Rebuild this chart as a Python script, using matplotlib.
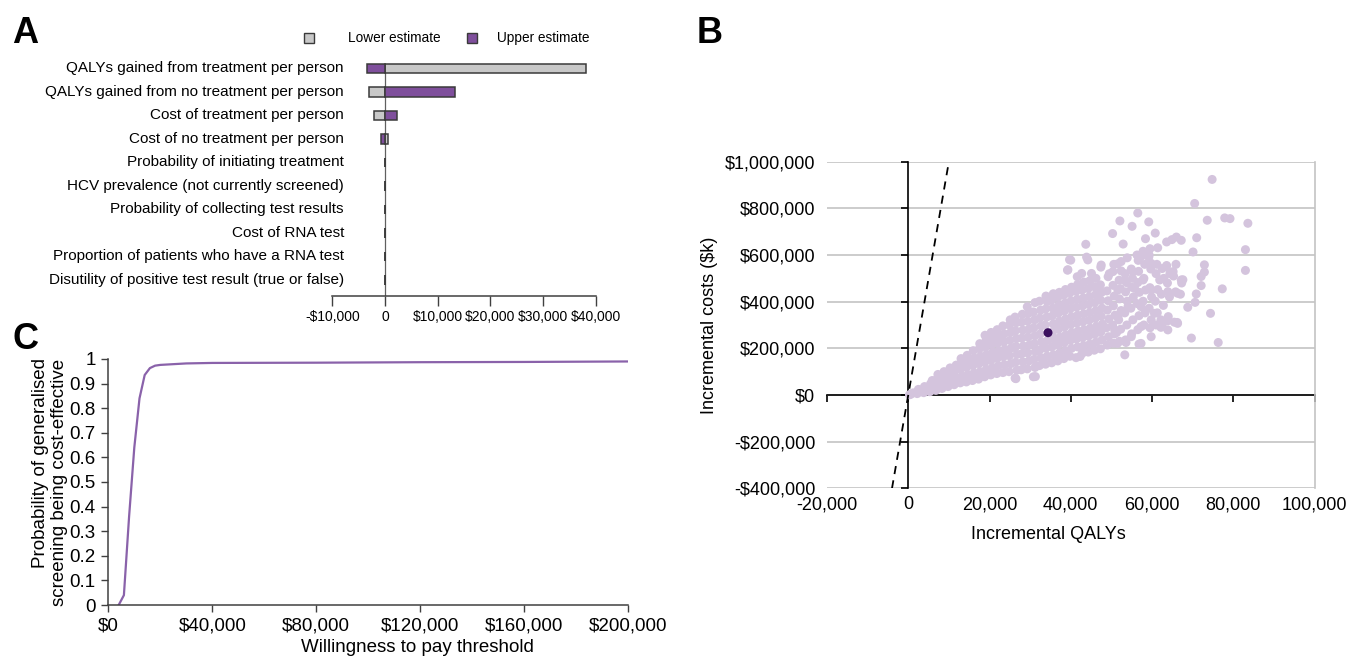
import matplotlib
matplotlib.use("Agg")
import matplotlib.pyplot as plt
import matplotlib.transforms as mtransforms
from matplotlib.patches import Rectangle

plt.rcParams['font.family'] = ['Liberation Sans', 'DejaVu Sans']

# ---------------- Panel A data (tornado) ----------------
tornado_params = [
    "QALYs gained from treatment per person",
    "QALYs gained from no treatment per person",
    "Cost of treatment per person",
    "Cost of no treatment per person",
    "Probability of initiating treatment",
    "HCV prevalence (not currently screened)",
    "Probability of collecting test results",
    "Cost of RNA test",
    "Proportion of patients who have a RNA test",
    "Disutility of positive test result (true or false)",
]
lower_estimate = [38100, -3050, -2100, 650, -60, -60, -60, -60, -60, -60]
upper_estimate = [-3500, 13300, 2200, -700, 60, 60, 60, 60, 60, 60]
tornado_ticks = [-10000, 0, 10000, 20000, 30000, 40000]
tornado_ticklabels = ["-$10,000", "0", "$10,000", "$20,000", "$30,000", "$40,000"]
legend_labels = ["Lower estimate", "Upper estimate"]

# ---------------- Panel B data (PSA scatter, thousands) ----------------
psa_draws_k = [
    (0.3, 1), (0.6, 3), (1.2, 9),
    (2.2, 6), (2.8, 14), (2.5, 24),
    (3.8, 10), (4.3, 22), (4.0, 36),
    (5.3, 14), (5.8, 30), (5.5, 48), (5.9, 62),
    (6.8, 20), (7.2, 40), (7.0, 66), (7.3, 88),
    (8.3, 28), (8.7, 54), (8.4, 80), (8.8, 100),
    (9.8, 36), (10.2, 62), (9.9, 90), (10.3, 116),
    (11.3, 44), (11.7, 74), (11.4, 102), (11.8, 128),
    (12.8, 52), (13.2, 80), (12.9, 110), (13.3, 138), (13.0, 156),
    (14.3, 56), (14.7, 88), (14.4, 120), (14.8, 150), (14.5, 170),
    (15.8, 62), (16.2, 94), (15.9, 126), (16.3, 158), (16.0, 190),
    (17.3, 68), (17.7, 100), (17.4, 134), (17.8, 166), (17.5, 198), (17.6, 220),
    (18.8, 78), (19.2, 110), (18.9, 142), (19.3, 174), (19.0, 206), (19.2, 238), (18.9, 256),
    (20.3, 86), (20.7, 118), (20.4, 150), (20.8, 184), (20.5, 216), (20.7, 248), (20.4, 268),
    (21.8, 92), (22.2, 126), (21.9, 158), (22.3, 190), (22.0, 222), (22.2, 254), (21.9, 280),
    (23.3, 96), (23.7, 130), (23.4, 164), (23.8, 196), (23.5, 228), (23.6, 262), (23.3, 296),
    (24.8, 100), (25.2, 134), (24.9, 168), (25.3, 200), (25.0, 234), (25.2, 268), (24.9, 300), (25.1, 322),
    (26.3, 72), (26.7, 106), (26.4, 140), (26.8, 174), (26.5, 208), (26.7, 242), (26.4, 276), (26.6, 310), (26.3, 334),
    (27.8, 108), (28.2, 142), (27.9, 176), (28.3, 210), (28.0, 244), (28.2, 278), (27.9, 312), (28.1, 346),
    (29.3, 112), (29.7, 146), (29.4, 180), (29.8, 214), (29.5, 248), (29.7, 282), (29.4, 316), (29.6, 350), (29.3, 378),
    (30.8, 78), (31.2, 118), (30.9, 152), (31.3, 186), (31.0, 220), (31.2, 254), (30.9, 288), (31.1, 322), (30.8, 356), (31.2, 396),
    (32.3, 126), (32.7, 160), (32.4, 194), (32.8, 228), (32.5, 262), (32.7, 296), (32.4, 330), (32.6, 364), (32.3, 402),
    (33.8, 132), (34.2, 166), (33.9, 200), (34.3, 234), (33.7, 300), (34.1, 334), (33.8, 368), (34.2, 400), (33.9, 424),
    (35.3, 138), (35.7, 172), (35.4, 206), (35.8, 240), (35.5, 270), (35.7, 304), (35.4, 338), (35.6, 372), (35.3, 406), (35.7, 434),
    (36.8, 146), (37.2, 180), (36.9, 214), (37.3, 248), (37.0, 282), (37.2, 316), (36.9, 350), (37.1, 384), (36.8, 418), (37.2, 440),
    (38.3, 156), (38.7, 190), (38.4, 224), (38.8, 258), (38.5, 292), (38.7, 326), (38.4, 360), (38.6, 394), (38.3, 428), (38.7, 452),
    (39.8, 166), (40.2, 200), (39.9, 234), (40.3, 268), (40.0, 302), (40.2, 336), (39.9, 370), (40.1, 404), (39.8, 438), (40.2, 462), (39.2, 535), (40.0, 578),
    (41.3, 160), (41.7, 206), (41.4, 240), (41.8, 274), (41.5, 308), (41.7, 342), (41.4, 376), (41.6, 410), (41.3, 444), (41.7, 474), (41.6, 507),
    (42.8, 178), (43.2, 212), (42.9, 246), (43.3, 280), (43.0, 314), (43.2, 348), (42.9, 382), (43.1, 416), (42.8, 450), (43.2, 484),
    (44.3, 184), (44.7, 218), (44.4, 252), (44.8, 286), (44.5, 320), (44.7, 354), (44.4, 388), (44.6, 422), (44.3, 456), (44.7, 490),
    (45.8, 192), (46.2, 226), (45.9, 260), (46.3, 294), (46.0, 328), (46.2, 362), (45.9, 396), (46.1, 430), (45.8, 464), (46.2, 500),
    (47.3, 198), (47.7, 236), (47.4, 270), (47.8, 304), (47.5, 338), (47.7, 372), (47.4, 406), (47.6, 440), (47.3, 472),
    (49.0, 214), (49.3, 250), (48.8, 288), (49.4, 326), (49.0, 364), (49.2, 404), (48.9, 446), (49.5, 520),
    (50.5, 222), (50.8, 262), (50.3, 300), (50.9, 342), (50.5, 382), (50.7, 424), (50.4, 470), (50.6, 560),
    (52.0, 230), (52.3, 282), (51.8, 322), (52.4, 362), (52.0, 412), (52.2, 456), (51.9, 492), (52.4, 532),
    (53.5, 236), (53.8, 300), (53.3, 352), (53.9, 402), (53.5, 442), (53.7, 482), (53.4, 520),
    (55.0, 262), (55.3, 322), (54.8, 372), (55.4, 420), (55.0, 462), (55.2, 500), (54.9, 540),
    (56.5, 280), (56.8, 340), (56.3, 392), (56.9, 440), (56.5, 482), (56.7, 530), (56.3, 600),
    (58.0, 300), (58.3, 352), (57.8, 402), (58.4, 450), (58.0, 500), (58.2, 560), (57.8, 616),
    (59.5, 288), (59.8, 322), (59.3, 372), (59.9, 420), (59.5, 460), (59.7, 540), (59.3, 600),
    (61.0, 300), (61.3, 352), (60.8, 402), (61.4, 452), (61.0, 520), (61.2, 560),
    (62.5, 296), (62.8, 384), (62.3, 432), (62.9, 500), (62.5, 542),
    (64.0, 336), (64.3, 420), (63.8, 480), (64.4, 520),
    (65.5, 312), (65.8, 442), (65.3, 510), (65.9, 560),
    (67.0, 432), (67.3, 480),
    (44.2, 579), (47.5, 557), (50.4, 529), (52.4, 572), (57.3, 593), (59.8, 564),
    (55.3, 529), (63.5, 550), (65.2, 529), (61.9, 493), (57.8, 493), (53.3, 493),
    (49.2, 507), (45.1, 521), (42.7, 521), (67.2, 493), (51.6, 450), (55.7, 457),
    (59.8, 450), (63.9, 443), (66.3, 436), (46.8, 464), (57.3, 379), (60.6, 350),
    (57.3, 293), (62.2, 322), (66.3, 307), (63.9, 279), (59.8, 250), (51.6, 336),
    (54.1, 379), (50.8, 279), (54.9, 250), (57.3, 221),
    (74.8, 924), (70.5, 821), (56.5, 780), (52.1, 746), (59.2, 742), (73.6, 749),
    (77.9, 759), (79.2, 756), (83.6, 736), (55.1, 723), (50.3, 692), (60.8, 694),
    (43.7, 646), (52.9, 647), (63.6, 656), (58.4, 670), (64.9, 666), (66.0, 677),
    (67.2, 663), (71.0, 674), (83.0, 623), (70.1, 613), (59.5, 627), (61.4, 631),
    (39.7, 580), (43.9, 591), (53.9, 588), (56.6, 577), (59.2, 591), (72.9, 558),
    (63.6, 555), (83.0, 534), (39.3, 537), (47.4, 548), (51.5, 562), (72.9, 527),
    (72.1, 508), (67.6, 494), (77.3, 455), (72.1, 469), (70.9, 433), (70.6, 397),
    (68.8, 376), (74.4, 350), (66.2, 311), (63.9, 318), (69.7, 244), (76.3, 225),
    (56.8, 218), (53.3, 172), (42.3, 165), (31.3, 79), (26.5, 70), (62.2, 290),
    (51.3, 268), (53.6, 225), (51.5, 221),
]
psa_mean_k = (34.4, 267)
wtp_line_qalys = [-4000, 10000]
wtp_per_qaly_k = 100
b_xticks = [-20000, 0, 20000, 40000, 60000, 80000, 100000]
b_yticks = [-400000, -200000, 0, 200000, 400000, 600000, 800000, 1000000]

# ---------------- Panel C data (CEAC) ----------------
wtp_threshold = [4000, 6000, 8000, 10000, 12000, 14000, 16000, 18000, 20000,
                 30000, 40000, 80000, 120000, 160000, 200000]
prob_cost_effective = [0.0, 0.04, 0.36, 0.64, 0.84, 0.935, 0.963, 0.973, 0.976,
                       0.982, 0.984, 0.985, 0.987, 0.988, 0.99]
c_xticks = [0, 40000, 80000, 120000, 160000, 200000]
c_yticks = [0, 0.1, 0.2, 0.3, 0.4, 0.5, 0.6, 0.7, 0.8, 0.9, 1.0]

# ---------------- layout helpers ----------------
W, H = 1349, 660
fig = plt.figure(figsize=(W / 100, H / 100), dpi=100)


def rect(left, top, right, bottom):
    return [left / W, 1 - bottom / H, (right - left) / W, (bottom - top) / H]


GREY = "#c8c8c8"
PURPLE = "#7f4f9c"
EDGE = "#3a3a3a"
AXC = "#404040"

# ================= Panel A =================
axA = fig.add_axes(rect(332.3, 54.4, 595.8, 295.7))
rows = list(range(1, len(tornado_params) + 1))
axA.axvline(0, ymin=0, ymax=0.961, color="#606060", lw=0.9, zorder=1)
axA.barh(rows, lower_estimate, height=0.4, color=GREY, edgecolor=EDGE, lw=1.1, zorder=2)
axA.barh(rows, upper_estimate, height=0.4, color=PURPLE, edgecolor=EDGE, lw=1.1, zorder=3)
axA.set_ylim(10.67, 0.4)
axA.set_xlim(-10000, 40000)
for s in ("left", "right", "top"):
    axA.spines[s].set_visible(False)
axA.spines["bottom"].set_color(AXC)
axA.spines["bottom"].set_linewidth(1.1)
axA.set_yticks([])
axA.set_xticks(tornado_ticks)
axA.set_xticklabels(tornado_ticklabels)
axA.tick_params(axis="x", direction="out", length=7, width=1, color=AXC, pad=3,
                labelsize=10)
trA = mtransforms.blended_transform_factory(axA.transAxes, axA.transData)
for r, lab in zip(rows, tornado_params):
    axA.text(0.044, r, lab, transform=trA, ha="right", va="center", fontsize=11)

# legend (manual)
for (cx, tx), col, lab in zip([(309, 348), (472, 497)], [GREY, PURPLE], legend_labels):
    fig.add_artist(Rectangle(((cx - 5) / W, 1 - (38 + 5) / H), 10 / W, 10 / H,
                             transform=fig.transFigure, facecolor=col,
                             edgecolor=EDGE, lw=1.0))
    fig.text(tx / W, 1 - 38 / H, lab, ha="left", va="center", fontsize=9.8)

# ================= Panel B =================
axB = fig.add_axes(rect(827, 161.7, 1314.5, 488.3))
axB.spines["left"].set_position(("data", 0))
axB.spines["bottom"].set_position(("data", 0))
qx = [p[0] * 1000 for p in psa_draws_k]
qy = [p[1] * 1000 for p in psa_draws_k]
axB.scatter(qx, qy, s=42, color="#d4c4dd", edgecolors="none", zorder=3)
axB.scatter([psa_mean_k[0] * 1000], [psa_mean_k[1] * 1000], s=42,
            color="#3b0f5e", edgecolors="none", zorder=4)
axB.plot(wtp_line_qalys, [v * wtp_per_qaly_k for v in wtp_line_qalys],
         color="black", lw=1.3, dashes=(4.5, 3.5), zorder=5)
axB.set_xlim(-20000, 100000)
axB.set_ylim(-400000, 1000000)
axB.set_xticks(b_xticks)
axB.set_yticks(b_yticks)
axB.set_xticklabels([f"{v:,}" for v in b_xticks])
axB.set_yticklabels([("-$" if v < 0 else "$") + f"{abs(v):,}" for v in b_yticks])
axB.grid(axis="y", color="#c4c4c4", lw=1.2, zorder=0)
axB.set_axisbelow(True)
for s in ("left", "bottom"):
    axB.spines[s].set_color("black")
    axB.spines[s].set_linewidth(1.2)
    axB.spines[s].set_zorder(2)
axB.spines["top"].set_visible(False)
axB.spines["right"].set_color("#c4c4c4")
axB.spines["right"].set_linewidth(1.2)
axB.tick_params(axis="y", direction="out", length=5, width=1.2, color="black", pad=62,
                labelsize=13)
axB.tick_params(axis="x", direction="out", length=5, width=1.2, color="black", pad=68,
                labelsize=13)
axB.set_xlabel("Incremental QALYs", fontsize=13)
axB.set_ylabel("Incremental costs ($k)", fontsize=13)
axB.xaxis.set_label_coords(0.455, -0.115)
axB.yaxis.set_label_coords(-0.224, 0.5)

# ================= Panel C =================
axC = fig.add_axes(rect(108.3, 359, 628.3, 605))
axC.plot(wtp_threshold, prob_cost_effective, color="#8a62aa", lw=1.6)
axC.set_xlim(0, 200000)
axC.set_ylim(0, 1)
axC.set_xticks(c_xticks)
axC.set_xticklabels(["$" + f"{v:,}" for v in c_xticks])
axC.set_yticks(c_yticks)
axC.set_yticklabels([f"{v:g}" for v in c_yticks])
for s in ("right", "top"):
    axC.spines[s].set_visible(False)
for s in ("left", "bottom"):
    axC.spines[s].set_color(AXC)
    axC.spines[s].set_linewidth(1.1)
axC.tick_params(direction="out", length=5, width=1, color=AXC, pad=4, labelsize=13.5)
axC.set_xlabel("Willingness to pay threshold", fontsize=13.5)
axC.xaxis.set_label_coords(0.595, -0.14)
axC.set_ylabel("Probability of generalised\nscreening being cost-effective",
               fontsize=13.5, multialignment="right", linespacing=1.15)
axC.yaxis.set_label_coords(-0.078, 0.5)

# panel letters
for lab, x, y in [("A", 12, 43), ("B", 697, 43), ("C", 12, 349)]:
    fig.text(x / W, 1 - y / H, lab, fontsize=26, fontweight="bold",
             ha="left", va="baseline")

fig.savefig("out.png", dpi=100)
